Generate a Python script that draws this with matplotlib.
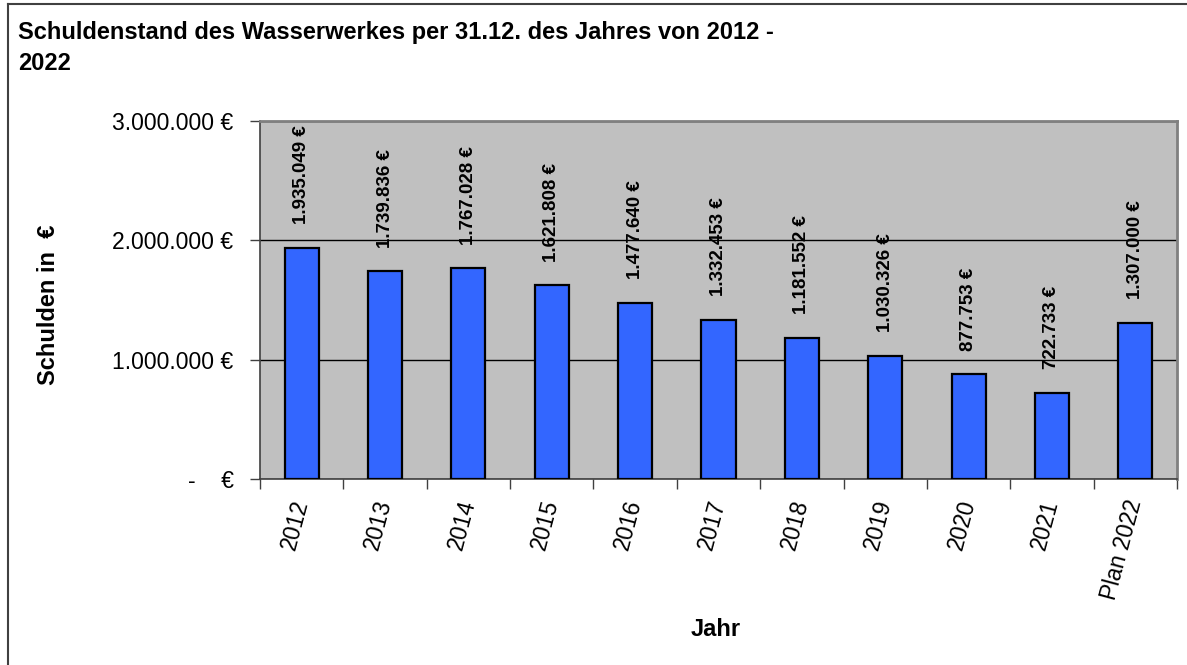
import matplotlib
matplotlib.use("Agg")
import matplotlib.pyplot as plt
from matplotlib.lines import Line2D
import numpy as np

categories = ["2012", "2013", "2014", "2015", "2016", "2017", "2018", "2019", "2020", "2021", "Plan 2022"]
values = [1935049, 1739836, 1767028, 1621808, 1477640, 1332453, 1181552, 1030326, 877753, 722733, 1307000]
ytick_values = [0, 1000000, 2000000, 3000000]
ytick_labels = ["-    €", "1.000.000 €", "2.000.000 €", "3.000.000 €"]
title_lines = ["Schuldenstand des Wasserwerkes per 31.12. des Jahres von 2012 -", "2022"]

plt.rcParams['font.family'] = ['Liberation Sans', 'DejaVu Sans']

W, H = 1187, 665
fig = plt.figure(figsize=(W / 100, H / 100), dpi=100)
ax = fig.add_axes([260 / W, 1 - 479 / H, (1177 - 260) / W, (479 - 121) / H])
ax.set_facecolor("#C0C0C0")

x = np.arange(len(categories))
bars = ax.bar(x, values, width=0.41, color="#3366FF", edgecolor="black", linewidth=1.6, zorder=3)

ax.set_xlim(-0.5, len(categories) - 0.5)
ax.set_ylim(0, 3000000)

for xi, v in zip(x, values):
    lab = f"{v:,}".replace(",", ".") + " €"
    ax.annotate(lab, (xi, v), xytext=(0, 17), textcoords="offset points",
                rotation=90, ha="center", va="bottom", fontsize=13.5, fontweight="bold", zorder=4)

ax.set_yticks(ytick_values)
ax.set_yticklabels(ytick_labels, fontsize=16.5)
ax.tick_params(axis="y", length=7, width=1, color="#404040", pad=12, direction="out")
ax.grid(axis="y", color="black", linewidth=1, zorder=1)

ax.set_xticks(x)
ax.set_xticklabels(categories, rotation=75, ha="right", va="center", rotation_mode="anchor", fontsize=16.5)
ax.tick_params(axis="x", which="major", length=0, pad=15)
ax.set_xticks(np.arange(-0.5, len(categories)), minor=True)
ax.tick_params(axis="x", which="minor", length=7, width=1, color="#404040", direction="out")

for s in ax.spines.values():
    s.set_color("#808080")
    s.set_linewidth(2)
ax.spines["left"].set_color("#404040")
ax.spines["left"].set_linewidth(1.2)
ax.spines["bottom"].set_color("#404040")
ax.spines["bottom"].set_linewidth(1.2)

fig.text(18 / W, 1 - 39 / H, title_lines[0], ha="left", va="baseline", fontsize=17, fontweight="bold")
fig.text(18 / W, 1 - 70 / H, title_lines[1], ha="left", va="baseline", fontsize=17, fontweight="bold")
fig.text(49 / W, 1 - 305 / H, "Schulden in  €", rotation=90, ha="center", va="center", fontsize=17, fontweight="bold")
fig.text(716 / W, 1 - 630 / H, "Jahr", ha="center", va="center", fontsize=17, fontweight="bold")

fig.add_artist(Line2D([7.5 / W, 7.5 / W], [0, 1 - 4 / H], transform=fig.transFigure, color="#404040", linewidth=1.5))
fig.add_artist(Line2D([7.5 / W, 1], [1 - 4 / H, 1 - 4 / H], transform=fig.transFigure, color="#404040", linewidth=1.5))

fig.savefig("out.png", dpi=100)
